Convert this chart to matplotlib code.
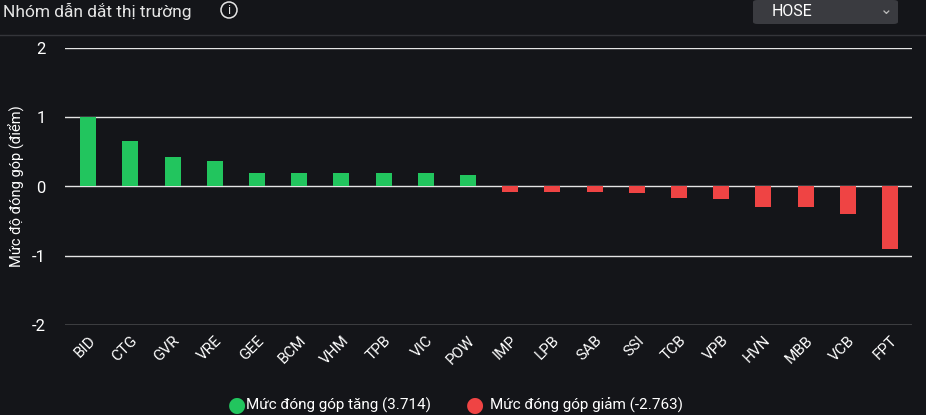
import matplotlib.pyplot as plt
from matplotlib.patches import FancyBboxPatch, Ellipse

tickers = ["BID", "CTG", "GVR", "VRE", "GEE", "BCM", "VHM", "TPB", "VIC", "POW",
           "IMP", "LPB", "SAB", "SSI", "TCB", "VPB", "HVN", "MBB", "VCB", "FPT"]
contrib = [1.01, 0.65, 0.43, 0.37, 0.20, 0.19, 0.19, 0.19, 0.19, 0.17,
           -0.08, -0.08, -0.08, -0.10, -0.16, -0.18, -0.29, -0.29, -0.39, -0.90]

BG = "#141519"
GREEN = "#22c55e"
RED = "#ef4444"

plt.rcParams["font.family"] = ["Roboto", "DejaVu Sans"]
fig = plt.figure(figsize=(9.26, 4.15), dpi=100, facecolor=BG)
ax = fig.add_axes([65 / 926, 1 - 325 / 415, 847 / 926, 277 / 415], facecolor=BG)

colors = [GREEN if v >= 0 else RED for v in contrib]
ax.bar(range(len(tickers)), contrib, width=0.38, color=colors, zorder=3)

ax.set_ylim(-2, 2)
ax.set_xlim(-0.55, len(tickers) - 0.48)
ax.set_yticks([-2, -1, 0, 1, 2])
ax.set_yticklabels(["-2", "-1", "0", "1", "2"])
ax.grid(axis="y", color="#e5e5e5", linewidth=1, zorder=0)
for s in ax.spines.values():
    s.set_visible(False)
ax.tick_params(axis="y", length=0, colors="white", labelsize=12, pad=14)
ax.tick_params(axis="x", length=0, colors="white", labelsize=11, pad=6)
ax.set_xticks(range(len(tickers)))
ax.set_xticklabels(tickers, rotation=45, ha="right", rotation_mode="anchor")
ax.set_ylabel("Mức độ đóng góp (điểm)", color="white", fontsize=10.5)
ax.yaxis.set_label_coords(-40 / 847, 0.5)

# header
fig.text(3 / 926, 1 - 11 / 415, "Nhóm dẫn dắt thị trường", color="#e5e5e5",
         fontsize=12.5, va="center")
fig.add_artist(Ellipse((229 / 926, 1 - 10 / 415), 16 / 926, 16 / 415,
                       transform=fig.transFigure, facecolor="none",
                       edgecolor="#e5e5e5", linewidth=1.1))
fig.text(229 / 926, 1 - 10 / 415, "i", color="#e5e5e5", fontsize=9, va="center",
         ha="center")
fig.add_artist(FancyBboxPatch((753 / 926, 1 - 24 / 415), 145 / 926, 24 / 415,
                              boxstyle="round,pad=0,rounding_size=0.005",
                              transform=fig.transFigure, facecolor="#3a3b40",
                              edgecolor="none"))
fig.text(772 / 926, 1 - 11 / 415, "HOSE", color="white", fontsize=11.5, va="center")
fig.text(880 / 926, 1 - 9 / 415, "⌄", color="#bbbbbb", fontsize=11, va="center",
         family=["DejaVu Sans"])
fig.add_artist(plt.Line2D([0, 1], [1 - 35 / 415] * 2, color="#34353a", linewidth=1,
                          transform=fig.transFigure))

# legend
ly = 1 - 405 / 415
fig.text(228 / 926, ly, "●", color=GREEN, fontsize=15, va="center", family=["DejaVu Sans"])
fig.text(246 / 926, ly, "Mức đóng góp tăng (3.714)", color="white", fontsize=11, va="center")
fig.text(466 / 926, ly, "●", color=RED, fontsize=15, va="center", family=["DejaVu Sans"])
fig.text(490 / 926, ly, "Mức đóng góp giảm (-2.763)", color="white", fontsize=11, va="center")

fig.savefig("out.png", dpi=100, facecolor=BG)
